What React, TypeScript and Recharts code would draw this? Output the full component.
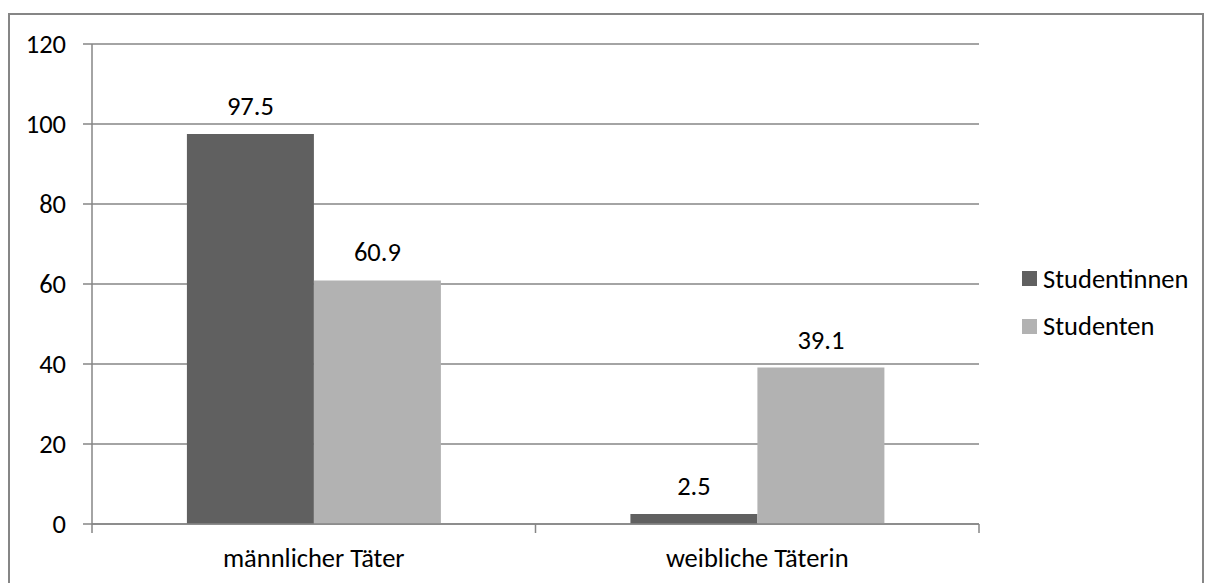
import { Bar, BarChart, CartesianGrid, LabelList, XAxis, YAxis } from "recharts";

const categories = ["männlicher Täter", "weibliche Täterin"];
const seriesNames = ["Studentinnen", "Studenten"];
const studentinnen = [97.5, 2.5];
const studenten = [60.9, 39.1];
const yTicks = [0, 20, 40, 60, 80, 100, 120];

const data = categories.map((name, i) => ({
  name,
  Studentinnen: studentinnen[i],
  Studenten: studenten[i],
}));

const FONT = "Carlito, 'Open Sans', sans-serif";
const FS = 26.5;
const LINE = "#868686";
const DARK = "#606060";
const LIGHT = "#b2b2b2";
const COLORS = [DARK, LIGHT];
const TICK = { fill: "#000", fontSize: FS, fontFamily: FONT };
const LABEL_GAP = 24;
const MARK = 9;

// category label plus tick marks on the band boundaries (Excel style)
function CategoryTick(props: any) {
  const { x, y, payload, index, visibleTicksCount } = props;
  const half = payload.offset ?? 0;
  const axisY = y - LABEL_GAP;
  const isLast = index === visibleTicksCount - 1;
  return (
    <g>
      <line x1={x - half} x2={x - half} y1={axisY} y2={axisY + MARK} stroke={LINE} strokeWidth={1.5} />
      {isLast && (
        <line x1={x + half} x2={x + half} y1={axisY} y2={axisY + MARK} stroke={LINE} strokeWidth={1.5} />
      )}
      <text x={x} y={y} dy="0.71em" textAnchor="middle" fill="#000" fontSize={FS} fontFamily={FONT}>
        {payload.value}
      </text>
    </g>
  );
}

export default function App() {
  return (
    <div style={{ position: "absolute", left: 0, top: 0, width: 1206, height: 583, overflow: "hidden", background: "#fff" }}>
      <div
        style={{
          position: "absolute",
          left: 8,
          top: 13,
          width: 1196,
          height: 620,
          border: `2px solid ${LINE}`,
          boxSizing: "border-box",
        }}
      />
      <div style={{ position: "absolute", left: 0, top: 0 }}>
        <BarChart
          width={1206}
          height={583}
          data={data}
          margin={{ top: 44, right: 227, bottom: 0, left: 0 }}
          barCategoryGap="21.4%"
          barGap={0}
        >
          <CartesianGrid vertical={false} stroke={LINE} strokeWidth={1.5} />
          <XAxis
            dataKey="name"
            tick={<CategoryTick />}
            tickLine={false}
            tickSize={0}
            tickMargin={LABEL_GAP}
            axisLine={{ stroke: LINE, strokeWidth: 1.5 }}
            height={59}
          />
          <YAxis
            domain={[0, 120]}
            ticks={yTicks}
            tick={TICK}
            tickSize={MARK}
            tickMargin={17}
            width={92}
            axisLine={{ stroke: LINE, strokeWidth: 1.5 }}
            tickLine={{ stroke: LINE, strokeWidth: 1.5 }}
          />
          <Bar dataKey="Studentinnen" fill={DARK} isAnimationActive={false}>
            <LabelList dataKey="Studentinnen" position="top" offset={19} fill="#000" fontSize={FS} fontFamily={FONT} />
          </Bar>
          <Bar dataKey="Studenten" fill={LIGHT} isAnimationActive={false}>
            <LabelList dataKey="Studenten" position="top" offset={19} fill="#000" fontSize={FS} fontFamily={FONT} />
          </Bar>
        </BarChart>
      </div>
      {/* legend */}
      <div style={{ position: "absolute", left: 1022, top: 255, fontFamily: FONT, fontSize: FS, color: "#000" }}>
        {seriesNames.map((s, i) => (
          <div key={s} style={{ display: "flex", alignItems: "center", height: 47.5 }}>
            <span style={{ width: 15, height: 15, background: COLORS[i], marginRight: 6, display: "inline-block" }} />
            <span>{s}</span>
          </div>
        ))}
      </div>
    </div>
  );
}
